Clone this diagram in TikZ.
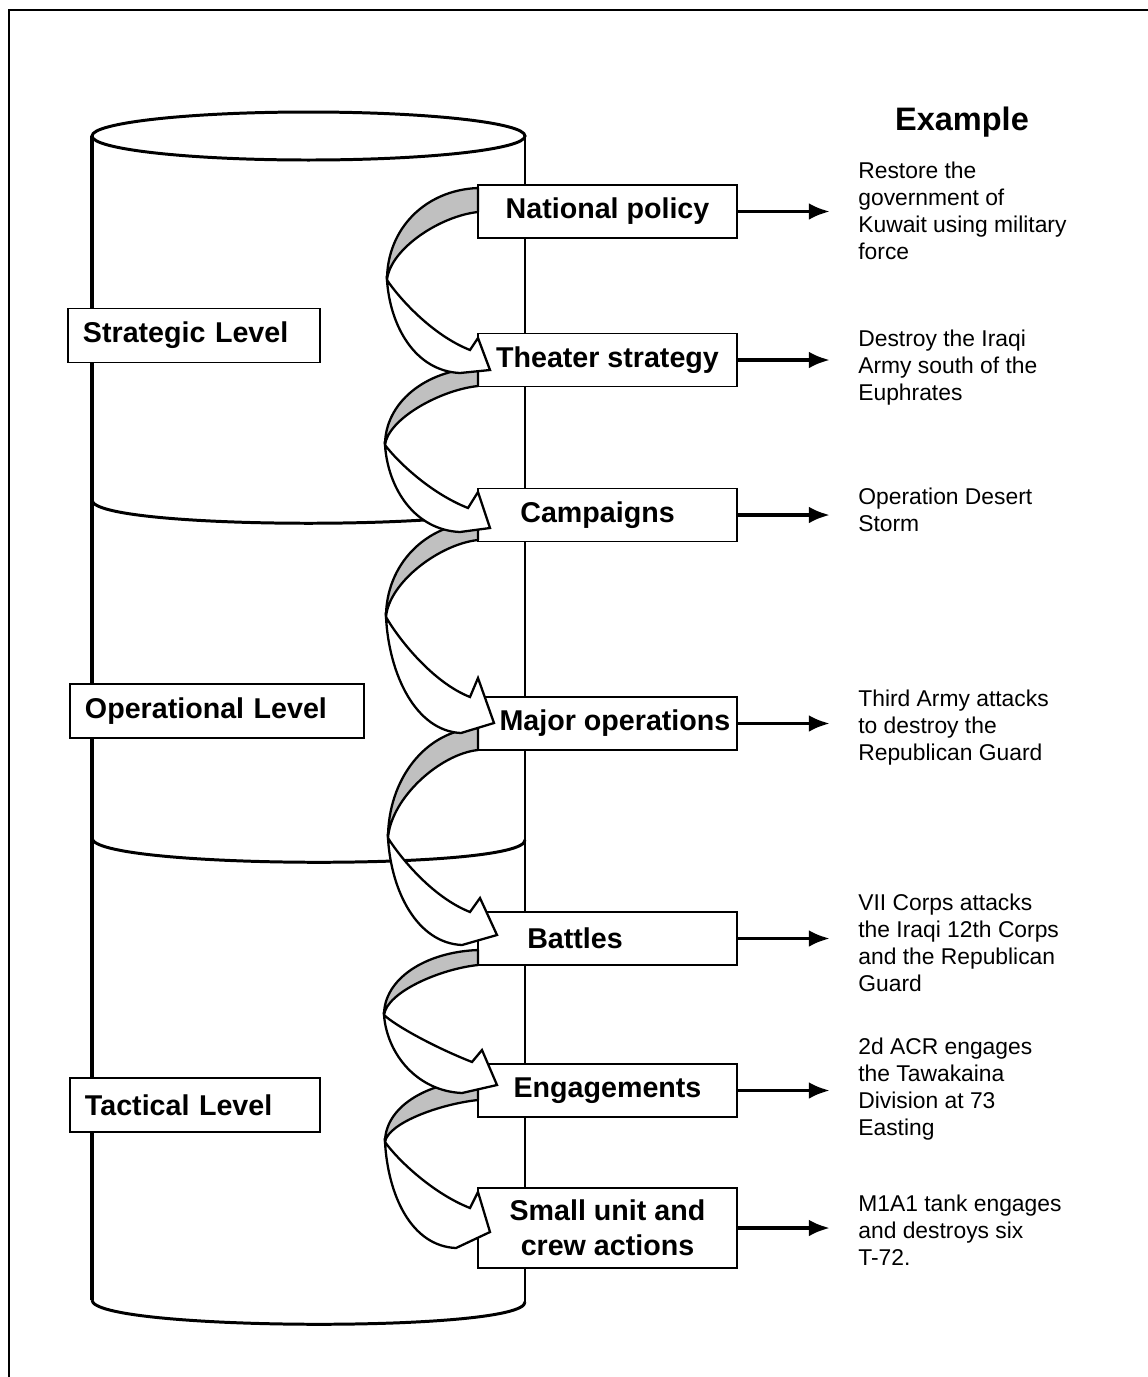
\documentclass[tikz,border=0pt]{standalone}
\usepackage{fontspec}
\setmainfont{Liberation Sans}
\usetikzlibrary{arrows.meta}
\definecolor{ribbon}{RGB}{192,192,192}

\begin{document}
\begin{tikzpicture}[x=0.02cm, y=-0.02cm, >={Latex[length=12pt, width=9.5pt]},
	lvlbox/.style={draw, fill=white, line width=1.1pt, anchor=west, inner xsep=0.3cm, outer sep=0pt, minimum height=1.08cm, align=left, font=\fontsize{16.3}{20}\selectfont\bfseries},
	stagebox/.style={draw, fill=white, line width=1.1pt, minimum width=5.18cm, minimum height=1.06cm, align=center, font=\fontsize{16.3}{20}\selectfont\bfseries},
	extext/.style={anchor=north west, inner sep=0pt, align=left, font=\fontsize{13}{15.2}\selectfont},
	back/.style={draw, fill=ribbon, line width=1.3pt, line join=round},
	front/.style={draw, fill=white, line width=1.3pt, line join=miter}]
	\useasboundingbox (0,0) rectangle (1148,1377);
	
	% frame
	\draw[line width=1.6pt] (9,1377) -- (9,10) -- (1148,10);
	
	% cylinder
	\draw[line width=1.7pt] (308.5,136) ellipse [x radius=216.5, y radius=24];
	\draw[line width=2.3pt] (92,136) -- (92,1300);
	\draw[line width=1.7pt] (525,136) -- (525,1302);
	\draw[line width=1.7pt] (92,1300) .. controls (92,1331) and (525,1333) .. (525,1302);
	\draw[line width=1.7pt] (92,500) .. controls (92,531) and (525,531) .. (525,500);
	\draw[line width=1.7pt] (92,838) .. controls (92,869) and (525,871) .. (525,840);
	
	% levels
	\node[lvlbox, text width=4.44cm] (strat) at (68,335.5) {Strategic Level};
	\node[lvlbox, text width=5.28cm] (oper) at (70,711) {Operational Level};
	\node[lvlbox, text width=4.4cm] (tact) at (70,1105) {Tactical Level};
	
	% stages
	\node[stagebox] (nat) at (607.5,211.5) {National policy};
	\node[stagebox] (thea) at (607.5,360) {Theater strategy};
	\node[stagebox] (camp) at (607.5,515) {Campaigns\hspace*{0.4cm}};
	\node[stagebox, inner xsep=0pt] (major) at (607.5,723.5) {\hspace*{0.3cm}Major operations};
	\node[stagebox] (batt) at (607.5,938.5) {Battles\hspace*{1.3cm}};
	\node[stagebox] (eng) at (607.5,1090.5) {Engagements};
	\node[stagebox, minimum height=1.6cm] (small) at (607.5,1228) {Small unit and\\ crew actions};
	
	% ribbons, last one first
	\draw[back] (478,1080) .. controls (425,1082) and (385,1108) .. (385,1142) .. controls (388,1123) and (440,1104) .. (478,1100) -- cycle;
	\draw[front] (385,1142) .. controls (388,1195) and (411,1246) .. (456,1248) -- (490,1232) -- (478,1192) -- (470,1208) .. controls (432,1193) and (397,1159) .. (385,1142) -- cycle;
	
	\draw[back] (478,950) .. controls (425,952) and (384,979) .. (384,1015) .. controls (387,992) and (440,969) .. (478,965) -- cycle;
	\draw[front] (384,1015) .. controls (387,1054) and (417,1091) .. (462,1093) -- (497,1085) -- (482,1050) -- (472,1062) .. controls (434,1047) and (396,1026) .. (384,1015) -- cycle;
	
	\draw[back] (478,728) .. controls (425,730) and (388,780) .. (388,838) .. controls (391,798) and (440,754) .. (478,750) -- cycle;
	\draw[front] (388,838) .. controls (391,891) and (417,943) .. (462,945) -- (497,935) -- (480,898) -- (470,912) .. controls (432,897) and (400,857) .. (388,838) -- cycle;
	
	\draw[back] (478,522) .. controls (425,524) and (386,565) .. (386,617) .. controls (389,582) and (440,544) .. (478,540) -- cycle;
	\draw[front] (386,617) .. controls (389,675) and (416,731) .. (461,733) -- (494,723) -- (478,678) -- (470,697) .. controls (432,682) and (398,638) .. (386,617) -- cycle;
	
	\draw[back] (478,368) .. controls (425,370) and (385,403) .. (385,445) .. controls (388,419) and (440,390) .. (478,386) -- cycle;
	\draw[front] (385,445) .. controls (388,489) and (415,530) .. (460,532) -- (490,528) -- (478,492) -- (468,508) .. controls (430,493) and (397,461) .. (385,445) -- cycle;
	
	\draw[back] (478,188) .. controls (425,190) and (387,229) .. (387,280) .. controls (390,249) and (440,216) .. (478,212) -- cycle;
	\draw[front] (387,280) .. controls (390,326) and (415,371) .. (460,373) -- (490,370) -- (478,338) -- (470,350) .. controls (432,335) and (399,298) .. (387,280) -- cycle;
	
	% examples
	\node[font=\fontsize{18.5}{22}\selectfont\bfseries] (exhead) at (962,122) {Example};
	\coordinate (tips) at (830,0);
	
	\draw[->, line width=2.2pt] (nat) -- (nat -| tips);
	\draw[->, line width=2.2pt] (thea) -- (thea -| tips);
	\draw[->, line width=2.2pt] (camp) -- (camp -| tips);
	\draw[->, line width=2.2pt] (major) -- (major -| tips);
	\draw[->, line width=2.2pt] (batt) -- (batt -| tips);
	\draw[->, line width=2.2pt] (eng) -- (eng -| tips);
	\draw[->, line width=2.2pt] (small) -- (small -| tips);
	
	\node[extext] (ex1) at (858,162) {Restore the\\ government of\\ Kuwait using military\\ force};
	\node[extext] (ex2) at (858,330) {Destroy the Iraqi\\ Army south of the\\ Euphrates};
	\node[extext] (ex3) at (858,488) {Operation Desert\\ Storm};
	\node[extext] (ex4) at (858,690) {Third Army attacks\\ to destroy the\\ Republican Guard};
	\node[extext] (ex5) at (858,894) {VII Corps attacks\\ the Iraqi 12th Corps\\ and the Republican\\ Guard};
	\node[extext] (ex6) at (858,1038) {2d ACR engages\\ the Tawakaina\\ Division at 73\\ Easting};
	\node[extext] (ex7) at (858,1195) {M1A1 tank engages\\ and destroys six\\ T-72.};
\end{tikzpicture}
\end{document}
